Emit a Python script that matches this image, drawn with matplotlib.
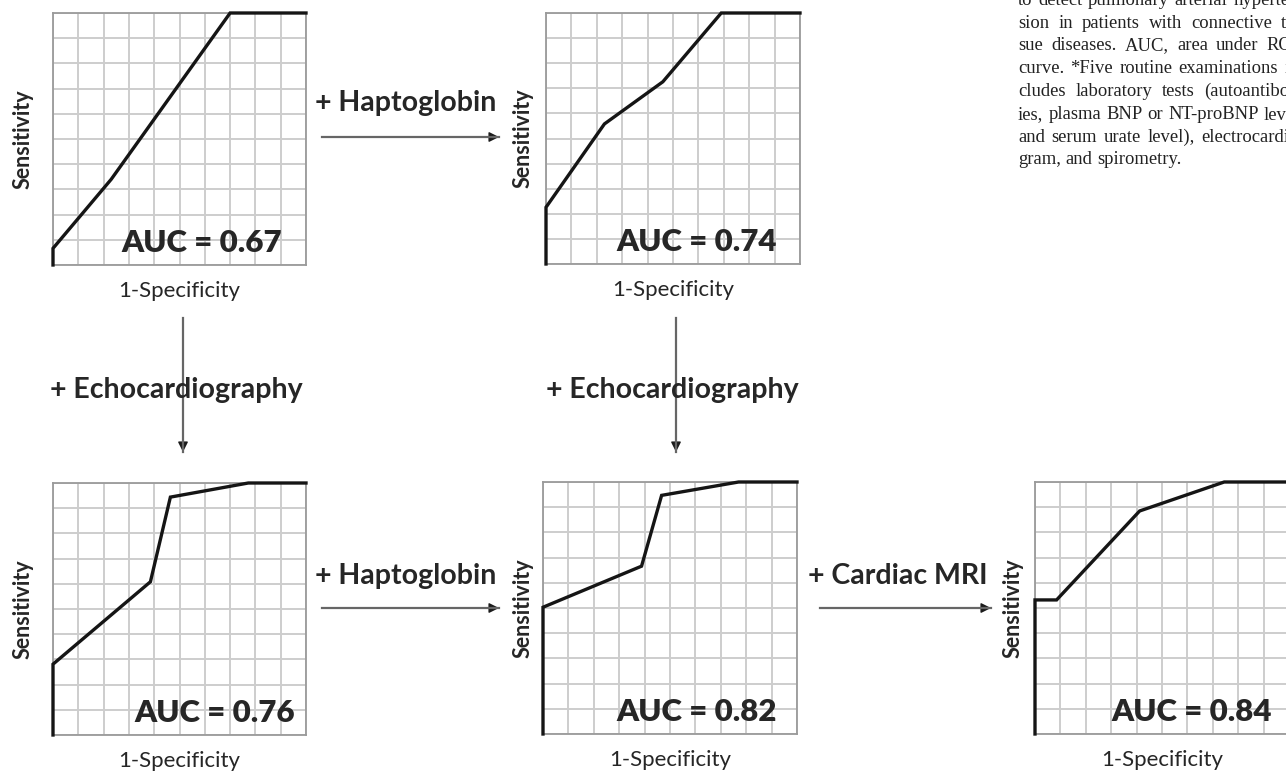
import numpy as np
import matplotlib
matplotlib.use("Agg")
import matplotlib.pyplot as plt
from matplotlib.lines import Line2D
from matplotlib.patches import FancyArrowPatch

# ROC curve vertices (1-specificity, sensitivity)
roc_x_1 = [0.0, 0.0, 0.23, 0.70, 1.0]
roc_y_1 = [0.0, 0.066, 0.34, 1.0, 1.0]
roc_x_2 = [0.0, 0.0, 0.23, 0.46, 0.69, 1.0]
roc_y_2 = [0.0, 0.226, 0.558, 0.726, 1.0, 1.0]
roc_x_3 = [0.0, 0.0, 0.385, 0.464, 0.772, 1.0]
roc_y_3 = [0.0, 0.281, 0.608, 0.944, 1.0, 1.0]
roc_x_4 = [0.0, 0.0, 0.388, 0.467, 0.77, 1.0]
roc_y_4 = [0.0, 0.503, 0.666, 0.947, 1.0, 1.0]
roc_x_5 = [0.0, 0.0, 0.085, 0.412, 0.745, 1.0]
roc_y_5 = [0.0, 0.532, 0.532, 0.885, 1.0, 1.0]
auc_values = [0.67, 0.74, 0.76, 0.82, 0.84]

step_labels = ["+ Haptoglobin", "+ Echocardiography", "+ Echocardiography",
               "+ Haptoglobin", "+ Cardiac MRI"]

caption_lines = [
    "to detect pulmonary arterial hyperten-",
    "sion in patients with connective tis-",
    "sue diseases. AUC, area under ROC",
    "curve. *Five routine examinations in-",
    "cludes laboratory tests (autoantibod-",
    "ies, plasma BNP or NT-proBNP level,",
    "and serum urate level), electrocardio-",
    "gram, and spirometry.",
]

W, H = 1286, 773
fig = plt.figure(figsize=(W / 100, H / 100), dpi=100)

SANS = ["Lato", "DejaVu Sans"]
TXT = "#262626"


def fx(x):
    return x / W


def fy(y):
    return 1 - y / H


def panel(box, xs, ys, auc, auc_right, ylab_off):
    x0, y0, x1, y1 = box
    ax = fig.add_axes([fx(x0), fy(y1), (x1 - x0) / W, (y1 - y0) / H])
    ax.set_xlim(0, 1)
    ax.set_ylim(0, 1)
    ax.set_xticks(np.linspace(0, 1, 11))
    ax.set_yticks(np.linspace(0, 1, 11))
    ax.tick_params(length=0, labelbottom=False, labelleft=False)
    ax.grid(True, color="#cdcdcd", lw=1.4)
    for s in ax.spines.values():
        s.set_color("#9a9a9a")
        s.set_linewidth(1.3)
    ax.plot(xs, ys, color="#151515", lw=2.4, clip_on=False, zorder=5,
            solid_joinstyle="miter")
    ax.text(auc_right, 0.05, f"AUC = {auc:.2f}", transform=ax.transAxes,
            ha="right", va="baseline", fontsize=22.5, fontweight="heavy",
            family=SANS, color=TXT, zorder=6)
    ax.set_ylabel("Sensitivity", family=SANS, fontweight="bold",
                  fontsize=15.5, color=TXT)
    ax.yaxis.set_label_coords(-ylab_off / (x1 - x0), 0.5)
    ax.set_xlabel("1-Specificity", family=SANS, fontsize=16, color=TXT)
    ax.xaxis.set_label_coords(0.5, -26 / (y1 - y0))
    ax.xaxis.label.set_va("center")
    ax.yaxis.label.set_va("center")
    return ax


panel((53, 13, 306, 265), roc_x_1, roc_y_1, auc_values[0], 0.905, 30)
panel((546, 13, 800, 264), roc_x_2, roc_y_2, auc_values[1], 0.91, 23)
panel((53, 483, 306, 735), roc_x_3, roc_y_3, auc_values[2], 0.957, 30)
panel((543, 482, 797, 734), roc_x_4, roc_y_4, auc_values[3], 0.92, 20)
panel((1035, 482, 1289, 734), roc_x_5, roc_y_5, auc_values[4], 0.933, 22)


def arrow(xa, ya, xb, yb):
    # grey shaft, small dark head
    fig.add_artist(Line2D([fx(xa), fx(xb)], [fy(ya), fy(yb)],
                          transform=fig.transFigure, color="#666666", lw=1.6))
    dx, dy = np.sign(xb - xa), np.sign(yb - ya)
    fig.add_artist(FancyArrowPatch(
        (fx(xb - 10 * dx), fy(yb - 10 * dy)), (fx(xb), fy(yb)),
        transform=fig.transFigure, arrowstyle="-|>", mutation_scale=15,
        color="#1a1a1a", lw=1.0, shrinkA=0, shrinkB=0))


def step(label, x, y):
    fig.text(fx(x), fy(y), label, family=SANS, fontweight="bold",
             fontsize=20.5, color=TXT, ha="left", va="baseline")


# horizontal steps
step(step_labels[0], 315, 111)
arrow(322, 137, 499, 137)
step(step_labels[3], 315, 584)
arrow(322, 608, 499, 608)
step(step_labels[4], 808, 584)
arrow(820, 608, 991, 608)
# vertical steps
step(step_labels[1], 50, 398)
arrow(183, 318, 183, 452)
step(step_labels[2], 546, 398)
arrow(676, 318, 676, 452)

# justified caption column, cut by the right edge
renderer = fig.canvas.get_renderer()
col_left, col_width = 1018, 287
for i, line in enumerate(caption_lines):
    yb = 5 + 22.75 * i
    words = line.split(" ")
    arts = [fig.text(0, fy(yb), w, family=["Liberation Serif", "DejaVu Serif"],
                     fontsize=13.4, color="#222222", va="baseline")
            for w in words]
    widths = [a.get_window_extent(renderer).width for a in arts]
    if i < len(caption_lines) - 1 and len(words) > 1:
        gap = (col_width - sum(widths)) / (len(words) - 1)
    else:
        gap = 0.25 * 13.4 * 100 / 72
    xpos = col_left
    for a, wd in zip(arts, widths):
        a.set_x(fx(xpos))
        xpos += wd + gap

fig.savefig("out.png", dpi=100)
